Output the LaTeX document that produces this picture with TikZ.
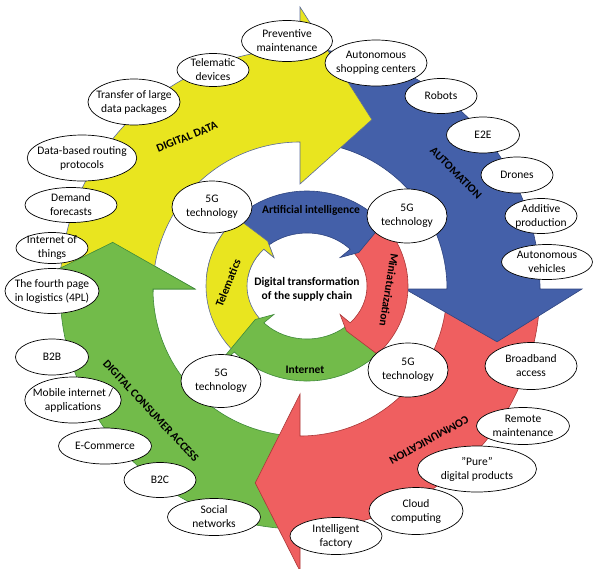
\documentclass[tikz,border=0pt]{standalone}
\usepackage{fontspec}
\setmainfont{Carlito}
\usetikzlibrary{shapes.geometric}

\definecolor{yelfill}{HTML}{E9E51F}
\definecolor{yeledge}{HTML}{5B6B9B}
\definecolor{blufill}{HTML}{4460A9}
\definecolor{bluedge}{HTML}{2F4580}
\definecolor{redfill}{HTML}{EF5F60}
\definecolor{rededge}{HTML}{A83838}
\definecolor{grnfill}{HTML}{72BB4A}
\definecolor{grnedge}{HTML}{3F8A3A}

% outer ring arrow: start angle, end angle, tip angle, tip radius, style
\newcommand{\OuterArrow}[5]{%
  \path[#5] (#1:147) -- (#1:240) arc[start angle=#1, end angle=#2, radius=240]
    -- (#2:282) -- (#3:#4) -- (#2:105) -- (#2:147)
    arc[start angle=#2, end angle=#1, radius=147] -- cycle;}

% inner ring arrow: start angle, end angle, tip angle, style
\newcommand{\InnerArrow}[4]{%
  \path[#4] (#1:60 and 53) -- (#1:101 and 95)
    arc[start angle=#1, end angle=#2, x radius=101, y radius=95]
    -- (#2:136 and 128) -- (#3:64 and 57) -- (#2:46 and 41) -- (#2:60 and 53)
    arc[start angle=#2, end angle=#1, x radius=60, y radius=53] -- cycle;}

\begin{document}
\begin{tikzpicture}[x=1pt,y=-1pt,
  yelarrow/.style={fill=yelfill, draw=yeledge, line width=0.6pt},
  bluarrow/.style={fill=blufill, draw=bluedge, line width=0.6pt},
  redarrow/.style={fill=redfill, draw=rededge, line width=0.6pt},
  grnarrow/.style={fill=grnfill, draw=grnedge, line width=0.6pt},
  bubble/.style={ellipse, draw=black, line width=0.7pt, fill=white,
    inner xsep=-6pt, inner ysep=-3pt, align=center,
    font=\fontsize{11.5}{14}\selectfont},
  ringlabel/.style={font=\bfseries\fontsize{11.5}{14}\selectfont, inner sep=0pt, align=center}]

\clip (0,0) rectangle (593,568);

% outer ring of four curved arrows
\begin{scope}[shift={(300,289)}, yscale=-1]
  \OuterArrow{-90}{-180}{-194}{193}{grnarrow}
  \OuterArrow{0}{-90}{-103}{199}{redarrow}
  \OuterArrow{90}{0}{-15}{204}{bluarrow}
  \OuterArrow{180}{90}{67}{184}{yelarrow}
  \begin{scope}
    \clip (-400,-2) rectangle (0,400);
    \OuterArrow{-90}{-180}{-194}{193}{grnarrow}
  \end{scope}
\end{scope}

% inner ring of four curved arrows
\begin{scope}[shift={(307,286)}, yscale=-1]
  \InnerArrow{224}{136}{128}{yelarrow}
  \InnerArrow{-44}{-136}{-144}{grnarrow}
  \InnerArrow{44}{-44}{-52}{redarrow}
  \InnerArrow{136}{44}{36}{bluarrow}
  \begin{scope}
    \clip (-200,10) rectangle (0,200);
    \InnerArrow{224}{136}{128}{yelarrow}
  \end{scope}
\end{scope}

% ring labels
\node[ringlabel, rotate=22]  (lbldata) at (187,137) {DIGITAL DATA};
\node[ringlabel, rotate=-45] (lblauto) at (456,173) {AUTOMATION};
\node[ringlabel, rotate=209] (lblcomm) at (429,440) {COMMUNICATION};
\node[ringlabel, rotate=-47] (lblcons) at (151,411) {DIGITAL CONSUMER ACCESS};
\node[ringlabel] (lblai) at (311,210) {Artificial intelligence};
\node[ringlabel, rotate=-99] (lblmini) at (389,290) {Miniaturization};
\node[ringlabel] (lblnet) at (305,370) {Internet};
\node[ringlabel, rotate=68] (lbltele) at (228,283) {Telematics};
\node[ringlabel] (core) at (307,289) {Digital transformation\\of the supply chain};

% 5G bubbles at the inner junctions
\node[bubble, minimum width=80, minimum height=52] (g1) at (212,207) {5G\\technology};
\node[bubble, minimum width=80, minimum height=54] (g2) at (407,216) {5G\\technology};
\node[bubble, minimum width=80, minimum height=54] (g3) at (408,370) {5G\\technology};
\node[bubble, minimum width=80, minimum height=53] (g4) at (221,381) {5G\\technology};

% digital data
\node[bubble, minimum width=72, minimum height=33] (telem) at (213,70) {Telematic\\devices};
\node[bubble, minimum width=92, minimum height=46] (transfer) at (134,102) {Transfer of large\\data packages};
\node[bubble, minimum width=98, minimum height=46] (routing) at (82,158) {Data-based routing\\protocols};
\node[bubble, minimum width=92, minimum height=35] (demand) at (71,205) {Demand\\forecasts};
\node[bubble, minimum width=72, minimum height=31] (iot) at (52,248) {Internet of\\things};
\node[bubble, minimum width=94, minimum height=45] (fourpl) at (52,291) {The fourth page\\in logistics (4PL)};
\node[bubble, minimum width=91, minimum height=41] (prevent) at (287,41) {Preventive\\maintenance};

% automation
\node[bubble, minimum width=102, minimum height=46] (shop) at (376,63) {Autonomous\\shopping centers};
\node[bubble, minimum width=72, minimum height=35] (robots) at (441,96) {Robots};
\node[bubble, minimum width=73, minimum height=36] (etoe) at (483,135) {E2E};
\node[bubble, minimum width=72, minimum height=36] (drones) at (517,175) {Drones};
\node[bubble, minimum width=72, minimum height=35] (additive) at (541,216) {Additive\\production};
\node[bubble, minimum width=91, minimum height=35] (autoveh) at (547,262) {Autonomous\\vehicles};

% digital consumer access
\node[bubble, minimum width=73, minimum height=36] (b2b) at (52,357) {B2B};
\node[bubble, minimum width=93, minimum height=46] (mobile) at (73,400) {Mobile internet /\\applications};
\node[bubble, minimum width=93, minimum height=36] (ecom) at (105,446) {E-Commerce};
\node[bubble, minimum width=72, minimum height=35] (b2c) at (160,480) {B2C};
\node[bubble, minimum width=93, minimum height=37] (social) at (214,517) {Social\\networks};

% communication
\node[bubble, minimum width=92, minimum height=47] (broadband) at (531,366) {Broadband\\access};
\node[bubble, minimum width=93, minimum height=37] (remote) at (523,426) {Remote\\maintenance};
\node[bubble, minimum width=119, minimum height=46] (pure) at (477,469) {"Pure"\\digital products};
\node[bubble, minimum width=94, minimum height=47] (cloud) at (416,511) {Cloud\\computing};
\node[bubble, minimum width=92, minimum height=37] (factory) at (336,536) {Intelligent\\factory};

\end{tikzpicture}
\end{document}
